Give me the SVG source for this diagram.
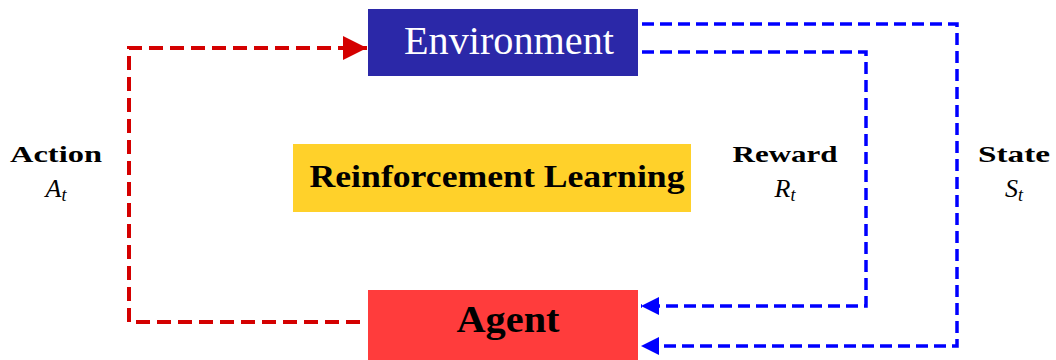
<svg xmlns="http://www.w3.org/2000/svg" width="1056" height="360" viewBox="0 0 1056 360">
<style>
.lbl{font-family:"Liberation Serif","DejaVu Serif",serif;font-weight:bold;font-size:23px;fill:#000;text-anchor:middle}
.var{font-family:"Liberation Serif","DejaVu Serif",serif;font-style:italic;font-size:26px;fill:#000;text-anchor:middle}
.sub{font-size:18px}
.red{fill:none;stroke:#d40000;stroke-width:4;stroke-dasharray:14,7}
.blue{fill:none;stroke:#0000ff;stroke-width:3.5;stroke-dasharray:12,6}
</style>
<defs>
<marker id="ar" markerUnits="userSpaceOnUse" markerWidth="26" markerHeight="26" refX="24" refY="13" orient="auto"><path d="M0,1 L24,13 L0,25 Z" fill="#d40000"/></marker>
<marker id="ab" markerUnits="userSpaceOnUse" markerWidth="20" markerHeight="20" refX="18" refY="10" orient="auto"><path d="M0,1 L18,10 L0,19 Z" fill="#0000ff"/></marker>
</defs>
<g id="connectors">
<path class="red" d="M360,322 H129 V48 H367" marker-end="url(#ar)"/>
<path class="blue" d="M642,24 H957 V346 H641" marker-end="url(#ab)"/>
<path class="blue" d="M642,52 H866 V306 H641" marker-end="url(#ab)"/>
</g>
<g id="environment">
<rect x="368" y="9" width="270" height="67" fill="#2b28a8"/>
<text x="509" y="54" font-family="Liberation Serif,DejaVu Serif,serif" font-size="39" fill="#fff" text-anchor="middle" textLength="210" lengthAdjust="spacingAndGlyphs">Environment</text>
</g>
<g id="agent">
<rect x="368" y="290" width="270" height="70" fill="#ff3c3c"/>
<text x="508" y="332" font-family="Liberation Serif,DejaVu Serif,serif" font-weight="bold" font-size="37" fill="#000" text-anchor="middle" textLength="103" lengthAdjust="spacingAndGlyphs">Agent</text>
</g>
<g id="rl">
<rect x="293" y="144" width="398" height="68" fill="#ffd12a"/>
<text x="497" y="187" font-family="Liberation Serif,DejaVu Serif,serif" font-weight="bold" font-size="32" fill="#000" text-anchor="middle" textLength="375" lengthAdjust="spacingAndGlyphs">Reinforcement Learning</text>
</g>
<g id="action">
<text class="lbl" x="56" y="162" textLength="92" lengthAdjust="spacingAndGlyphs">Action</text>
<text class="var" x="56" y="197">A<tspan class="sub" dy="4">t</tspan></text>
</g>
<g id="reward">
<text class="lbl" x="785" y="162" textLength="105" lengthAdjust="spacingAndGlyphs">Reward</text>
<text class="var" x="785" y="197">R<tspan class="sub" dy="4">t</tspan></text>
</g>
<g id="state">
<text class="lbl" x="1014" y="162" textLength="72" lengthAdjust="spacingAndGlyphs">State</text>
<text class="var" x="1014" y="197">S<tspan class="sub" dy="4">t</tspan></text>
</g>
</svg>
